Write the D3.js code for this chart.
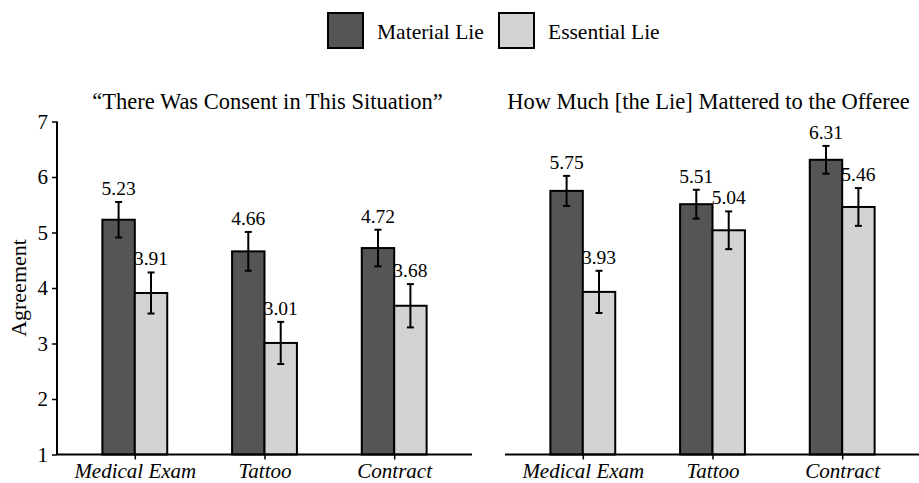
<!DOCTYPE html>
<html>
<head>
<meta charset="utf-8">
<script src="https://cdn.jsdelivr.net/npm/d3@7"></script>
<style>
  html, body { margin: 0; padding: 0; background: #fff; }
  svg { display: block; }
  text { font-family: "Liberation Serif", "DejaVu Serif", serif; fill: #000; }
</style>
</head>
<body>
<svg id="chart" width="919" height="483"></svg>
<script>
// ---- data ----
const categories = ["Medical Exam", "Tattoo", "Contract"];
const seriesNames = ["Material Lie", "Essential Lie"];
const panelTitles = ["\u201CThere Was Consent in This Situation\u201D", "How Much [the Lie] Mattered to the Offeree"];
const consentMaterial = [5.23, 4.66, 4.72];
const consentEssential = [3.91, 3.01, 3.68];
const consentMaterialErr = [0.32, 0.35, 0.33];
const consentEssentialErr = [0.37, 0.38, 0.39];
const matteredMaterial = [5.75, 5.51, 6.31];
const matteredEssential = [3.93, 5.04, 5.46];
const matteredMaterialErr = [0.27, 0.26, 0.25];
const matteredEssentialErr = [0.38, 0.34, 0.34];
const yTicks = [1, 2, 3, 4, 5, 6, 7];
const yLabel = "Agreement";
const colors = ["#555555", "#d3d3d3"];

const panels = [
  { title: panelTitles[0], values: [consentMaterial, consentEssential], errs: [consentMaterialErr, consentEssentialErr] },
  { title: panelTitles[1], values: [matteredMaterial, matteredEssential], errs: [matteredMaterialErr, matteredEssentialErr] }
];

const svg = d3.select("#chart");
const plotTop = 121.5, plotBottom = 454.5;
const panelW = 415;
const panelX = [57, 505];

const y = d3.scaleLinear().domain([1, 7]).range([plotBottom, plotTop]);

panels.forEach((p, pi) => {
  const g = svg.append("g").attr("transform", `translate(${panelX[pi]},0)`);
  const unit = panelW / (categories.length + 0.2);
  const x = d3.scalePoint().domain(categories).range([0.6 * unit, panelW - 0.6 * unit]);
  const sub = d3.scaleBand().domain(seriesNames).range([-0.25 * unit, 0.25 * unit]).padding(0);

  g.append("text")
    .attr("x", panelW / 2 + (pi === 0 ? 3 : -4)).attr("y", 109)
    .attr("text-anchor", "middle")
    .style("font-size", "22.5px")
    .text(p.title);

  seriesNames.forEach((s, si) => {
    const vals = p.values[si];
    const cg = g.append("g");
    categories.forEach((c, ci) => {
      const cx = x(c) + sub(s);
      const w = sub.bandwidth();
      cg.append("rect")
        .attr("x", cx).attr("y", y(vals[ci]))
        .attr("width", w).attr("height", y(1) - y(vals[ci]))
        .attr("fill", colors[si]).attr("stroke", "#000").attr("stroke-width", 2);
    });
  });
  seriesNames.forEach((s, si) => {
    const vals = p.values[si];
    const errs = p.errs[si];
    categories.forEach((c, ci) => {
      const mx = x(c) + sub(s) + sub.bandwidth() / 2;
      const hi = y(vals[ci] + errs[ci]), lo = y(vals[ci] - errs[ci]);
      const eg = g.append("g").attr("stroke", "#000").attr("stroke-width", 2);
      eg.append("line").attr("x1", mx).attr("x2", mx).attr("y1", hi).attr("y2", lo);
      eg.append("line").attr("x1", mx - 3.5).attr("x2", mx + 3.5).attr("y1", hi).attr("y2", hi);
      eg.append("line").attr("x1", mx - 3.5).attr("x2", mx + 3.5).attr("y1", lo).attr("y2", lo);
      g.append("text")
        .attr("x", mx).attr("y", hi - 7)
        .attr("text-anchor", "middle")
        .style("font-size", "19.5px")
        .text(d3.format(".2f")(vals[ci]));
    });
  });

  const xAxis = d3.axisBottom(x).tickSize(5).tickPadding(4);
  const xa = g.append("g").attr("transform", `translate(0,${plotBottom})`).call(xAxis);
  xa.select(".domain").attr("d", `M0,0H${panelW}`).attr("stroke", "#000").attr("stroke-width", 2);
  xa.selectAll(".tick line").attr("stroke", "#000").attr("stroke-width", 1.5);
  xa.selectAll(".tick text")
    .style("font-size", "21px").style("font-style", "italic")
    .attr("font-family", null).attr("font-size", null).attr("dy", "0.71em");

  if (pi === 0) {
    const yAxis = d3.axisLeft(y).tickValues(yTicks).tickFormat(d3.format("d")).tickSize(5).tickPadding(4);
    const ya = g.append("g").call(yAxis);
    ya.select(".domain").attr("d", `M0,${plotTop}V${plotBottom}`).attr("stroke", "#000").attr("stroke-width", 2);
    ya.selectAll(".tick line").attr("stroke", "#000").attr("stroke-width", 1.5);
    ya.selectAll(".tick text").style("font-size", "21px").attr("font-family", null).attr("font-size", null);
    g.append("text")
      .attr("transform", `translate(${18 - panelX[0]},${(plotTop + plotBottom) / 2}) rotate(-90)`)
      .attr("text-anchor", "middle")
      .attr("dy", "0.35em")
      .style("font-size", "22px")
      .text(yLabel);
  }
});

const legend = svg.append("g");
const legendItems = [
  { name: seriesNames[0], x: 327, tx: 377 },
  { name: seriesNames[1], x: 498, tx: 548 }
];
legendItems.forEach((it, i) => {
  legend.append("rect")
    .attr("x", it.x + 1).attr("y", 13).attr("width", 35).attr("height", 35)
    .attr("fill", colors[i]).attr("stroke", "#000").attr("stroke-width", 2);
  legend.append("text")
    .attr("x", it.tx).attr("y", 31).attr("dy", "0.35em")
    .style("font-size", "21.5px")
    .text(it.name);
});
</script>
</body>
</html>
